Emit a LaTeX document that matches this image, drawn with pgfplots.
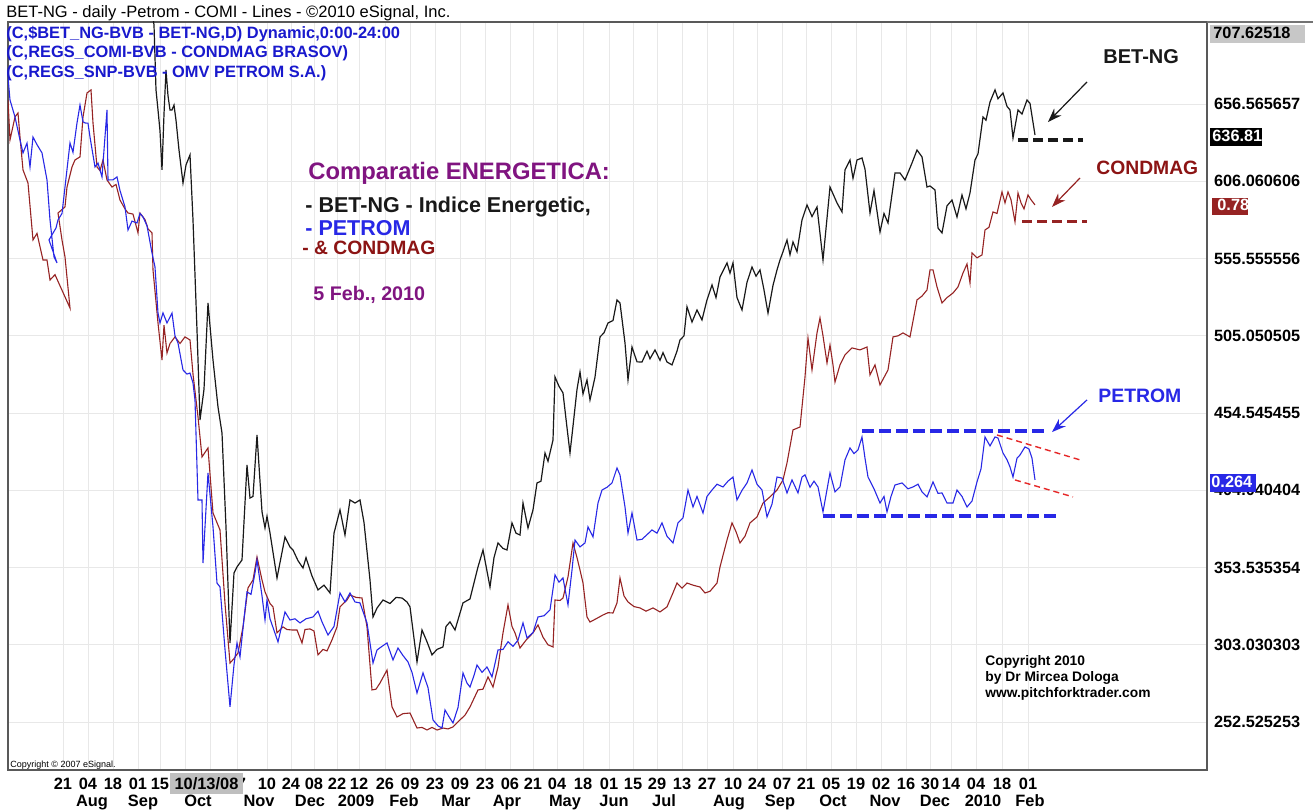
\documentclass[border=0pt]{standalone}
\usepackage{fontspec}
\setmainfont{Liberation Sans}
\usepackage{pgfplots}
\pgfplotsset{compat=1.18}
\usetikzlibrary{arrows.meta}
\definecolor{betc}{RGB}{25,25,25}
\definecolor{petc}{RGB}{40,40,230}
\definecolor{conc}{RGB}{150,35,35}
\definecolor{purp}{RGB}{128,20,128}
\definecolor{hdrb}{RGB}{25,25,205}
\definecolor{trend}{RGB}{230,40,40}
\definecolor{lblred}{RGB}{140,20,20}
\newcommand\fs[1]{\fontsize{#1}{#1}\selectfont}
\begin{document}
\begin{tikzpicture}
\path[use as bounding box, fill=white] (0,0) rectangle (656.5pt,405pt);
\begin{axis}[
  at={(4pt,20pt)}, anchor=south west,
  scale only axis, width=599.5pt, height=374pt,
  xmin=8, xmax=1207, ymin=221.15, ymax=710.2,
  axis line style={draw=black!65, line width=0.8pt},
  xtick={63,88,113,138,160,185,210,237,267,291,314,337,359,385,410,435,460,485,510,533,557,583,609,633,657,682,707,733,757,782,806,831,856,881,906,930,951,976,1002,1028},
  xticklabels={21,04,18,01,15,,,27,10,24,08,22,12,26,09,23,09,23,06,21,04,18,01,15,29,13,27,10,24,07,21,05,19,02,16,30,14,04,18,01},
  ytick={252.525253,303.030303,353.535354,404.040404,454.545455,505.050505,555.555556,606.060606,656.565657},
  yticklabels={252.525253,303.030303,353.535354,404.040404,454.545455,505.050505,555.555556,606.060606,656.565657},
  yticklabel pos=right,
  grid=major, major grid style={draw=black!9, line width=0.4pt},
  major tick length=0pt,
  xticklabel style={anchor=base, yshift=-9.5pt, font=\bfseries\fs{8.2}},
  yticklabel style={anchor=west, font=\bfseries\fs{8.15}},
  clip=true,
]
% BET-NG
\addplot[betc, line width=0.6pt] coordinates {
(148,735) (154,708.3) (156,665.8) (158,652.7) (160,639) (162,613.5) (164,650) (166,678.8) (168,662) (170,652.7) (172,652.7) (174,655.9) (176,646) (179,626.5) (183,604.9) (186,616.7) (190,623.3) (193,580.8) (197,508.8) (200,450.0) (204,470) (208,526.5) (213,489.2) (218,458.5) (222,441.5) (226,380) (230,304.2) (234,350) (237,353.9) (242,358.5) (247,420.6) (250,399.0) (253,400) (257,440.2) (262,390) (265,379.4) (267,387) (270,376.1) (277,346.7) (285,373.5) (290,367) (293,365.0) (298,358) (303,353.2) (306,360) (312,348) (318,338.9) (324,342) (330,336.9) (334,376) (340,391.2) (345,374.8) (350,397.7) (355,395.7) (360,397.7) (364,383) (370,345.4) (373,321.2) (377,327) (383,332.3) (390,330) (396,334) (402,333.6) (407,331) (410,327.8) (417,291.8) (422,312.7) (427,305) (432,296.4) (437,300) (443,301.6) (446,315) (450,318) (455,312.7) (463,330.4) (470,333) (478,353.9) (483,365.0) (490,340.8) (494,360) (498,369.6) (503,366) (507,365.0) (512,382.7) (516,376) (520,374.8) (523,395.7) (528,379.4) (533,391.2) (537,408.8) (541,410) (545,428.4) (548,423) (553,436.9) (555,478.1) (559,472) (563,467.7) (567,445) (570,428.4) (573,446) (577,470) (580,481.4) (583,467) (587,476.2) (590,463.1) (595,478) (600,504.3) (604,507) (608,513.4) (613,515) (617,528.5) (620,526.5) (625,500.3) (628,476.2) (632,497.7) (637,488) (642,487.9) (647,495) (650,490) (655,495.8) (660,489) (663,494) (667,487.9) (672,486.0) (677,495) (680,502.3) (684,505) (687,524.0) (692,514) (697,521.9) (702,515.4) (707,528.5) (712,538.3) (716,530) (720,543.5) (727,552.7) (730,546) (733,552.7) (737,530) (742,521.9) (747,540) (752,550.0) (756,544) (760,548.1) (764,535) (768,519.9) (773,538) (777,548.1) (780,554.6) (783,560) (787,567.7) (790,558) (793,566.4) (797,560) (802,580.8) (807,590.6) (812,583) (817,589.3) (823,554.6) (830,602.3) (837,591.9) (842,586.0) (845,613.5) (850,620.0) (853,608) (857,620.0) (862,621.3) (865,614) (870,585.3) (874,600) (880,572.9) (884,585) (888,578.8) (895,611.5) (900,611.5) (905,606.9) (912,618.0) (917,626.5) (922,622) (927,602.3) (930,603) (935,600.4) (938,575.5) (942,572.3) (947,590) (952,593.8) (957,582.7) (962,597.1) (966,588) (970,598.4) (975,620.0) (978,624) (983,648.1) (986,646) (990,657.9) (995,665.8) (998,660) (1003,663.8) (1007,655) (1010,652.7) (1013,634.4) (1018,652.7) (1022,650) (1027,659.2) (1030,657) (1035,636.3)
};
% CONDMAG
\addplot[conc, line width=0.55pt] coordinates {
(8,659.2) (10,633.1) (15,648.1) (18,650.7) (20,635) (23,613.5) (28,604.9) (33,567.7) (37,572) (43,554.6) (47,554.6) (50,541.5) (55,545) (70,523.2) (65,556.6) (62,567.7) (58,585.3) (65,589.3) (67,602.3) (72,615.4) (75,620.0) (80,622) (83,648.1) (87,663.8) (91,665.8) (93,644.2) (97,615.4) (100,613) (103,620.0) (107,606.9) (112,602.3) (116,604) (120,593.8) (125,588) (128,585.3) (133,584.6) (138,572.3) (140,585.3) (145,581) (148,575) (152,572.3) (153,548.1) (158,513.4) (162,489.2) (164,512) (167,493.8) (170,500) (175,504.3) (180,500) (185,504.3) (190,502.3) (193,480) (198,452.0) (202,425.8) (208,431.7) (213,389.2) (220,378.1) (225,330) (230,291.1) (234,294) (238,297.7) (243,314.7) (248,340.2) (253,345.4) (257,360.4) (262,345.4) (265,337.6) (270,330) (273,327.8) (277,310.8) (283,314.7) (287,313) (292,312.7) (297,312.7) (302,304.2) (305,313) (310,313.4) (314,312) (318,296.4) (323,300) (327,299) (332,306.2) (337,314.7) (340,327.8) (347,332.3) (350,335.6) (356,334) (362,333.6) (367,314.7) (372,273.5) (376,274) (380,278.0) (387,286.5) (392,262.4) (397,255.8) (403,258) (410,258.4) (417,248.6) (422,249) (427,247.3) (432,249) (437,247.3) (443,248.6) (448,248) (453,249.3) (460,253.9) (465,257) (470,262.4) (478,273.5) (483,274) (488,282.0) (493,275.4) (498,288.5) (503,310.8) (508,329.1) (512,315) (515,310.8) (520,300.9) (526,306) (533,310.8) (538,316.0) (543,308) (548,303) (553,301.6) (555,332.3) (560,332) (563,333.6) (568,347.4) (573,369.6) (577,360) (580,351.9) (583,343.4) (587,321.2) (590,317.9) (596,320) (603,322.5) (608,324) (613,323.8) (617,330.4) (620,346.7) (624,335) (628,331.0) (634,328) (640,327.1) (646,325) (653,327.1) (660,324.5) (667,327.8) (673,337.0) (677,343.4) (682,340) (687,343.4) (693,342) (700,340.8) (705,336.9) (710,338) (717,343.4) (720,353.9) (727,371.5) (732,382.7) (736,377) (740,369.6) (745,374) (750,382.7) (757,386.6) (763,395.7) (770,399.7) (777,404.2) (783,410.8) (787,421.9) (793,443.5) (800,445.4) (805,478.1) (808,503.6) (812,482.7) (817,506.9) (820,516.7) (823,505) (827,487.3) (830,499.0) (833,486) (835,474.8) (840,486.0) (845,492.5) (852,497.1) (860,495.8) (867,497.7) (870,479.4) (875,486.0) (880,472.9) (888,482.7) (893,504.3) (898,505) (903,506.9) (910,504.3) (917,528.5) (922,531) (927,535.0) (930,548.1) (933,548.1) (937,537) (942,526.5) (947,530) (953,533) (958,537) (963,546.1) (967,552) (970,539.6) (972,559.2) (977,556) (982,557.9) (985,574.2) (989,576) (993,586.0) (997,585) (1002,599.1) (1005,591.9) (1008,599.1) (1011,594) (1015,579.5) (1018,598.4) (1021,592) (1024,588) (1028,597.1) (1031,594) (1035,590.6)
};
% PETROM
\addplot[petc, line width=0.55pt] coordinates {
(8,674.3) (10,659.2) (15,648.1) (20,633.1) (23,624.6) (27,631) (30,615.4) (33,635.0) (37,630) (42,624.6) (47,606.9) (50,580.8) (54,556.6) (57,552.7) (49,567.7) (56,575.5) (58,580.8) (62,585) (65,602.3) (70,631.1) (73,625) (77,644.2) (80,655.9) (83,645) (85,644.2) (88,644) (90,635.0) (95,615.4) (98,618) (102,608.9) (107,652.7) (108,606.9) (113,607) (117,608.9) (120,600) (125,589.3) (128,574.2) (132,580) (137,578.8) (140,585) (143,582.7) (147,577) (152,559.2) (155,550) (158,519.9) (160,513.4) (163,520) (167,513.4) (172,519.9) (175,505) (178,500.3) (183,482.7) (187,480) (190,480.7) (193,474.2) (195,463) (198,397.7) (202,397.7) (203,356.5) (208,415.4) (213,380.1) (217,343.4) (220,340.8) (225,300) (230,262.4) (234,290) (237,304.2) (240,295.1) (244,320) (247,337.6) (251,336) (255,350.0) (257,358.5) (262,335) (265,319.2) (267,332.3) (270,320) (278,304.9) (285,324.5) (290,319.2) (295,320) (300,317.3) (306,320) (313,321.2) (318,325) (322,318) (328,309.4) (334,315) (340,336.9) (345,331) (350,336.9) (355,331) (360,330.4) (367,317.3) (373,291.1) (377,299.6) (382,302) (387,304.2) (393,293.1) (398,300.9) (403,296) (408,291.8) (412,285) (417,271.5) (423,284.6) (428,275) (433,253.9) (438,250) (442,248.6) (445,260.4) (449,256) (453,251.9) (458,262) (463,284.6) (467,278) (470,275.4) (474,283) (477,289.8) (482,285) (487,288.5) (492,282.0) (498,299.6) (503,300) (508,305) (513,302) (518,306) (523,317.3) (527,307.5) (533,311) (538,321.2) (544,322) (550,325.8) (555,348.7) (559,344) (563,346.7) (568,329.1) (572,351.9) (575,371.5) (580,367) (585,369.6) (588,380.1) (593,373.5) (598,395.7) (602,404.2) (607,406) (612,408.8) (617,418.6) (620,414) (625,393.1) (628,376.1) (632,389.2) (637,371.5) (642,372) (647,375) (652,378.1) (657,376) (662,382.7) (667,374) (673,369.6) (678,382.7) (683,386) (688,404.2) (693,393.1) (697,400) (703,389.2) (707,400) (712,404.2) (717,408) (723,406.2) (728,410) (733,412.7) (737,397.7) (742,404) (747,408.8) (752,417.3) (757,408) (762,404.2) (767,386.6) (772,395) (777,412.7) (782,412) (787,402.3) (792,410.8) (798,402.3) (802,412.7) (805,414.1) (810,406) (814,410) (818,406.2) (823,389.9) (830,415.4) (835,403.0) (840,406.2) (845,423.9) (850,431.7) (854,428) (858,430.4) (862,438.9) (865,425) (868,412.7) (874,405) (880,395.7) (884,400) (887,389.9) (891,400) (895,407.5) (902,408.8) (908,405) (913,406.2) (918,408) (922,403) (927,399.7) (933,409.5) (938,402) (942,402.3) (947,395.7) (953,395.7) (957,404.2) (962,400) (967,393.1) (972,397) (977,409.5) (981,418) (985,438.9) (990,433) (995,438.9) (998,438.2) (1003,428.4) (1007,424) (1010,419.3) (1013,412.7) (1017,425) (1020,427.1) (1025,432.4) (1029,431) (1032,425) (1035,410.8)
};
% support / resistance lines
\addplot[betc, line width=1.6pt, dash pattern=on 5pt off 2.5pt] coordinates {(1018,633.1) (1083,633.1)};
\addplot[conc, line width=1.6pt, dash pattern=on 5pt off 2.5pt] coordinates {(1022,579.5) (1087,579.5)};
\addplot[petc, line width=1.8pt, dash pattern=on 6pt off 2.5pt] coordinates {(862,442.8) (1045,442.8)};
\addplot[petc, line width=1.8pt, dash pattern=on 6pt off 2.5pt] coordinates {(823,387.2) (1058,387.2)};
\addplot[trend, line width=0.7pt, dash pattern=on 3pt off 2pt] coordinates {(997,440.2) (1080,423.9)};
\addplot[trend, line width=0.7pt, dash pattern=on 3pt off 2pt] coordinates {(1015,410.8) (1073,399.7)};
% arrows
\draw[betc, line width=0.6pt, -{Stealth[length=7pt,width=5pt]}] (axis cs:1087,671.0) -- (axis cs:1048,644.8);
\draw[conc, line width=0.6pt, -{Stealth[length=7pt,width=5pt]}] (axis cs:1080,608.2) -- (axis cs:1052,589.3);
\draw[petc, line width=0.6pt, -{Stealth[length=7pt,width=5pt]}] (axis cs:1087,463.1) -- (axis cs:1052,442.1);
\end{axis}
\begin{scope}[x=0.5pt, y=-0.5pt, shift={(0pt,405pt)}]
\draw[black!55, line width=0.6pt] (1207,22) -- (1313,22);
% title and header
\node[anchor=base west, inner sep=0pt, font=\fs{8.25}] at (6,18) {BET-NG - daily -Petrom - COMI - Lines - ©2010 eSignal, Inc.};
\node[anchor=base west, inner sep=0pt, text=hdrb, font=\bfseries\fs{8.2}] at (6,39) {(C,\$BET\_NG-BVB - BET-NG,D) Dynamic,0:00-24:00};
\node[anchor=base west, inner sep=0pt, text=hdrb, font=\bfseries\fs{8.2}] at (6,58) {(C,REGS\_COMI-BVB - CONDMAG BRASOV)};
\node[anchor=base west, inner sep=0pt, text=hdrb, font=\bfseries\fs{8.2}] at (6,78) {(C,REGS\_SNP-BVB - OMV PETROM S.A.)};
% central legend text
\node[anchor=base west, inner sep=0pt, text=purp, font=\bfseries\fs{11.9}] at (308,179.5) {Comparatie ENERGETICA:};
\node[anchor=base west, inner sep=0pt, text=betc, font=\bfseries\fs{10.75}] at (305,213) {- BET-NG - Indice Energetic,};
\node[anchor=base west, inner sep=0pt, text=petc, font=\bfseries\fs{10.75}] at (305,236) {- PETROM};
\node[anchor=base west, inner sep=0pt, text=lblred, font=\bfseries\fs{9.65}] at (302,255) {- \& CONDMAG};
\node[anchor=base west, inner sep=0pt, text=purp, font=\bfseries\fs{9.85}] at (313,301) {5 Feb., 2010};
% right labels
\node[anchor=base west, inner sep=0pt, text=betc, font=\bfseries\fs{10}] at (1103,64) {BET-NG};
\node[anchor=base west, inner sep=0pt, text=lblred, font=\bfseries\fs{9.65}] at (1096,175) {CONDMAG};
\node[anchor=base west, inner sep=0pt, text=petc, font=\bfseries\fs{9.7}] at (1098,403) {PETROM};
% copyright
\node[anchor=base west, inner sep=0pt, font=\bfseries\fs{6.9}] at (985,665) {Copyright 2010};
\node[anchor=base west, inner sep=0pt, font=\bfseries\fs{6.9}] at (985,681) {by Dr Mircea Dologa};
\node[anchor=base west, inner sep=0pt, font=\bfseries\fs{6.9}] at (985,697) {www.pitchforktrader.com};
\node[anchor=base west, inner sep=0pt, font=\fs{4.5}] at (10,767) {Copyright © 2007 eSignal.};
% highlighted value boxes on right scale
\fill[black!22] (1210,25) rectangle (1305,43);
\node[anchor=base west, inner sep=0pt, font=\bfseries\fs{8.15}] at (1213,39) {707.62518};
\fill[black] (1210,128) rectangle (1262,146);
\node[anchor=base west, inner sep=0pt, text=white, font=\bfseries\fs{8.15}] at (1212,142) {636.81};
\fill[conc] (1212,198) rectangle (1248,215);
\node[anchor=base west, inner sep=0pt, text=white, font=\bfseries\fs{8.15}] at (1217,211) {0.78};
\fill[petc] (1210,474) rectangle (1256,492);
\node[anchor=base west, inner sep=0pt, text=white, font=\bfseries\fs{8.15}] at (1211,488) {0.264};
% date box
\fill[black!25] (170,773) rectangle (243,794);
\node[anchor=base, inner sep=0pt, font=\bfseries\fs{8.2}] at (206.5,789) {10/13/08};
% month labels
\foreach \mx/\ml in {92/Aug,143/Sep,198/Oct,259/Nov,310/Dec,356/2009,404/Feb,456/Mar,507/Apr,565/May,614/Jun,664/Jul,729/Aug,780/Sep,833/Oct,885/Nov,935/Dec,983/2010,1030/Feb}
  \node[anchor=base, inner sep=0pt, font=\bfseries\fs{8.2}] at (\mx,806) {\ml};
\end{scope}
\end{tikzpicture}
\end{document}
